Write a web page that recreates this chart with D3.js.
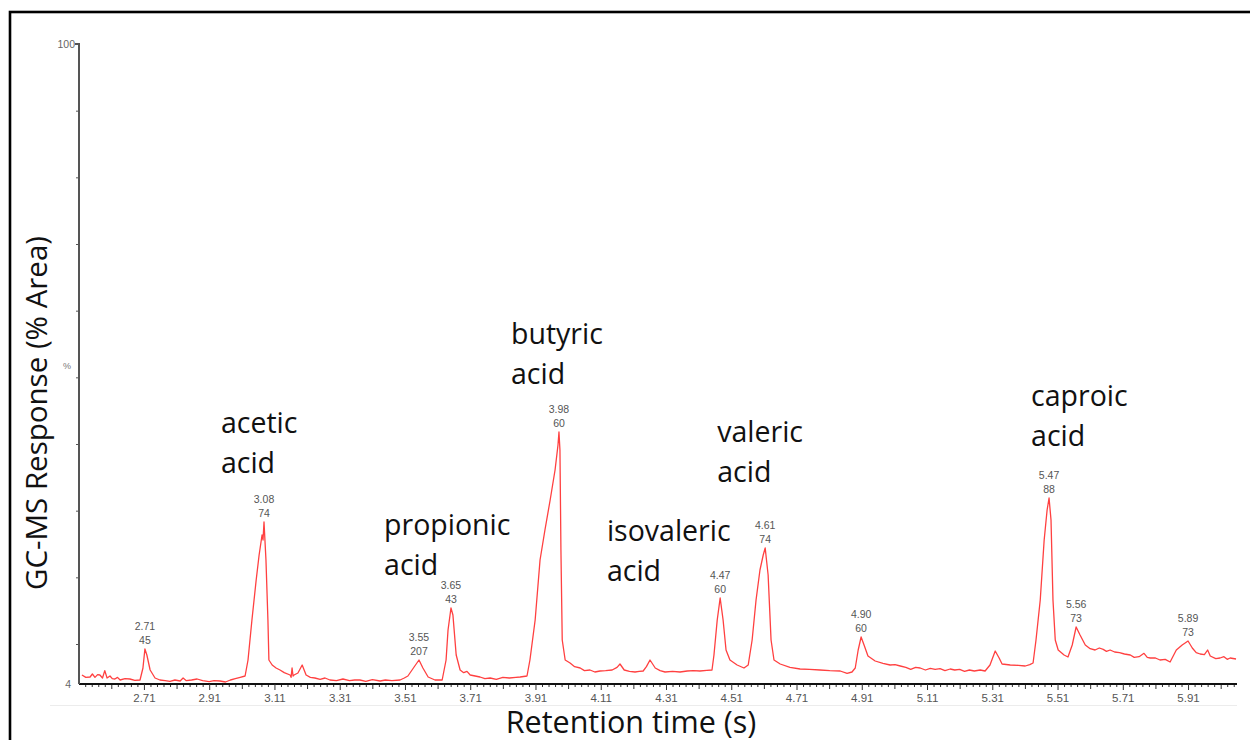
<!DOCTYPE html>
<html>
<head>
<meta charset="utf-8">
<script src="https://cdn.jsdelivr.net/npm/d3@7"></script>
<style>
  html, body { margin: 0; padding: 0; background: #fff; }
  svg { display: block; }
</style>
</head>
<body>
<svg id="chart" width="1250" height="740"></svg>
<script>
// ---------------- DATA ----------------
// Chromatogram trace: retention time (s) and response (%)
const traceTime = [
  2.520,2.532,2.545,2.552,2.560,2.568,2.575,2.583,2.590,2.597,2.606,2.613,2.621,2.629,2.637,2.652,2.667,2.682,2.698,
  2.707,2.713,2.719,2.729,2.744,2.759,2.775,2.790,2.805,2.821,2.830,2.840,2.856,2.873,2.890,2.910,2.925,2.943,2.960,2.975,2.990,
  3.005,3.020,3.029,3.041,3.054,3.063,3.072,3.075,3.078,3.084,3.090,3.093,3.103,3.115,3.127,3.140,3.158,3.161,3.164,3.167,3.170,
  3.182,3.195,3.207,3.220,3.234,3.250,3.265,3.280,3.300,3.320,3.340,3.356,3.372,3.390,3.410,3.434,3.450,3.470,3.495,3.508,
  3.519,3.538,3.553,3.565,3.581,3.602,3.624,3.636,3.642,3.651,3.657,3.667,3.679,3.690,3.700,3.710,3.725,3.740,3.755,3.771,
  3.790,3.810,3.830,3.850,3.863,3.884,3.893,3.909,3.924,3.939,3.955,3.970,3.979,3.982,3.985,3.988,3.992,4.001,4.016,4.030,
  4.047,4.060,4.077,4.092,4.108,4.125,4.145,4.160,4.169,4.182,4.198,4.215,4.228,4.240,4.250,4.261,4.277,4.292,4.307,4.330,
  4.353,4.375,4.394,4.414,4.435,4.451,4.457,4.467,4.476,4.485,4.494,4.506,4.528,4.549,4.562,4.574,4.586,4.598,4.608,4.614,
  4.623,4.632,4.641,4.660,4.690,4.721,4.750,4.782,4.812,4.844,4.865,4.880,4.890,4.899,4.908,4.917,4.929,4.951,4.975,4.997,
  5.012,5.028,5.045,5.060,5.075,5.089,5.105,5.120,5.135,5.150,5.165,5.181,5.195,5.210,5.225,5.240,5.255,5.273,5.288,5.303,5.319,5.331,5.340,5.365,5.390,5.411,5.425,5.435,5.444,
  5.457,5.469,5.478,5.484,5.490,5.496,5.503,5.512,5.530,5.542,5.555,5.567,5.579,5.595,5.610,5.625,5.638,5.650,5.660,5.671,5.685,5.700,5.715,5.733,
  5.745,5.760,5.775,5.785,5.794,5.810,5.824,5.840,5.855,5.874,5.892,5.910,5.923,5.935,5.947,5.960,5.970,5.978,5.995,6.008,6.020,6.030,6.039,6.057
];
const traceResponse = [
  5.35,5.0,5.05,5.5,5.0,5.4,5.35,4.9,6.0,4.9,5.2,4.8,4.75,5.0,4.6,4.8,4.75,4.55,4.6,
  6.4,9.25,8.35,6.1,4.9,4.6,4.5,4.4,4.6,4.45,4.9,4.5,4.6,4.75,4.5,4.35,4.5,4.45,4.3,4.6,4.8,
  5.0,5.2,7.6,13.6,19.6,23.35,26.35,25.6,28.3,22.6,13.6,7.6,6.85,6.4,6.1,5.7,5.35,5.0,6.4,5.2,5.35,
  5.65,6.85,5.35,5.0,4.9,4.7,4.9,4.6,4.5,4.75,4.5,4.6,4.6,4.4,4.65,4.45,4.6,4.5,4.6,4.9,
  5.2,6.55,7.6,6.4,5.05,4.6,4.6,7.6,12.1,15.4,14.35,8.35,6.1,5.7,5.9,5.35,5.2,5.05,4.8,4.9,
  4.7,5.0,4.9,5.0,5.05,5.2,7.6,13.6,22.6,27.1,31.6,36.1,39.85,41.8,39.1,24.1,10.6,7.6,7.15,6.6,
  6.4,6.0,6.1,5.8,5.95,6.0,6.1,6.5,7.0,6.1,5.9,5.8,5.9,5.95,6.6,7.6,6.4,6.0,5.8,5.9,
  5.8,5.95,6.0,5.95,6.05,6.1,8.35,13.6,16.9,13.6,9.1,7.6,6.85,6.4,6.85,10.6,16.6,21.1,23.35,24.4,
  20.35,10.6,7.6,7.0,6.5,6.25,6.2,6.1,6.0,5.95,5.6,5.8,6.4,9.1,11.05,9.85,8.2,7.45,7.1,6.85,
  6.9,6.7,6.5,6.2,6.5,6.4,6.1,6.35,6.2,6.3,6.0,6.25,6.1,6.2,5.9,6.1,5.95,6.1,5.95,6.85,8.95,7.9,7.0,6.85,6.8,6.7,6.9,7.15,10.6,
  16.6,25.6,30.1,31.9,28.6,16.6,10.6,9.1,8.35,8.05,9.85,12.55,11.35,9.85,9.3,9.1,9.4,9.2,8.9,9.1,8.8,8.7,8.5,8.35,
  8.0,8.1,8.6,8.0,7.9,7.9,7.6,7.7,7.3,9.1,9.85,10.45,9.4,8.7,8.5,8.4,9.1,8.2,7.8,7.9,8.1,7.7,7.9,7.75
];

// Peak annotations (apex retention time label, base m/z)
const peakRTLabels = ["2.71","3.08","3.55","3.65","3.98","4.47","4.61","4.90","5.47","5.56","5.89"];
const peakMzLabels = ["45","74","207","43","60","60","74","60","88","73","73"];
const peakApexTime = [2.713,3.078,3.553,3.651,3.982,4.476,4.614,4.908,5.484,5.567,5.910];
const peakApexResponse = [9.25,28.3,7.6,15.4,41.8,16.9,24.4,11.05,31.9,12.55,10.45];

// Compound names
const compoundNames = ["acetic","butyric","propionic","isovaleric","valeric","caproic"];
const compoundSecondLine = ["acid","acid","acid","acid","acid","acid"];

// Axis ticks
const xTickLabels = ["2.71","2.91","3.11","3.31","3.51","3.71","3.91","4.11","4.31","4.51","4.71","4.91","5.11","5.31","5.51","5.71","5.91"];
const yTickValues = [10,20,30,40,50,60,70,80,90,100];
const yTopLabel = "100";
const yBottomLabel = "4";
const yUnitLabel = "%";
const xTitle = "Retention time (s)";
const yTitle = "GC-MS Response (% Area)";

// ---------------- LAYOUT (positions of compound labels in data units) ----------------
const compoundLabelTime = [2.946, 3.835, 3.446, 4.129, 4.467, 5.429];
const compoundLabelResponse = [41.65, 55.0, 26.35, 25.45, 40.3, 45.7];

// ---------------- DRAW ----------------
const svg = d3.select("#chart");
const plot = { left: 79, right: 1237, top: 44, bottom: 684 };

const x = d3.scaleLinear().domain([2.511, 6.06]).range([plot.left, plot.right]);
const y = d3.scaleLinear().domain([4, 100]).range([plot.bottom, plot.top]);

// outer frame
svg.append("rect")
  .attr("x", 10).attr("y", 12).attr("width", 1400).attr("height", 900)
  .attr("fill", "none").attr("stroke", "#000").attr("stroke-width", 2.6);

// faint bottom line of the instrument image
svg.append("line")
  .attr("x1", 50).attr("x2", plot.right).attr("y1", 705.5).attr("y2", 705.5)
  .attr("stroke", "#ececec").attr("stroke-width", 1);

// trace
const traceData = traceTime.map((t, i) => [t, traceResponse[i]]);
svg.append("path")
  .datum(traceData)
  .attr("fill", "none")
  .attr("stroke", "#ff4040")
  .attr("stroke-width", 1.3)
  .attr("stroke-linejoin", "round")
  .attr("d", d3.line().x(d => x(d[0])).y(d => y(d[1])));

// x axis: minor ticks
const minorVals = d3.range(0, 200).map(i => +(2.51 + i * 0.02).toFixed(2)).filter(v => v >= 2.52 && v <= 6.06);
const xMinor = d3.axisBottom(x).tickValues(minorVals.filter(v => Math.round(v * 100) % 10 !== 1))
  .tickSize(3).tickFormat("");
const gMinor = svg.append("g").attr("transform", `translate(0,${plot.bottom})`).call(xMinor);
gMinor.select(".domain").remove();
gMinor.selectAll("line").attr("stroke", "#333").attr("stroke-width", 1);

const midVals = minorVals.filter(v => Math.round(v * 100) % 10 === 1 && !xTickLabels.includes(v.toFixed(2)));
const xMid = d3.axisBottom(x).tickValues(midVals).tickSize(5).tickFormat("");
const gMid = svg.append("g").attr("transform", `translate(0,${plot.bottom})`).call(xMid);
gMid.select(".domain").remove();
gMid.selectAll("line").attr("stroke", "#333").attr("stroke-width", 1);

const xMajor = d3.axisBottom(x).tickValues(xTickLabels.map(Number)).tickSize(6).tickPadding(4)
  .tickFormat((d, i) => xTickLabels[i]);
const gX = svg.append("g").attr("transform", `translate(0,${plot.bottom})`).call(xMajor);
gX.select(".domain").attr("stroke", "#111").attr("stroke-width", 2).attr("d", `M${plot.left},0H${plot.right}`);
gX.selectAll("line").attr("stroke", "#333").attr("stroke-width", 1);
gX.selectAll("text").attr("fill", "#555").attr("font-family", "Liberation Sans, Arial, sans-serif").attr("font-size", 11.5);

// y axis
const yAxis = d3.axisLeft(y).tickValues(yTickValues).tickSize(3).tickFormat("");
const gY = svg.append("g").attr("transform", `translate(${plot.left},0)`).call(yAxis);
gY.select(".domain").attr("stroke", "#555").attr("stroke-width", 2).attr("d", `M-4,${plot.top}H0V${plot.bottom}`);
gY.selectAll("line").attr("stroke", "#555").attr("stroke-width", 1);

const smallFont = "Liberation Sans, Arial, sans-serif";
svg.append("text").attr("x", plot.left - 4).attr("y", y(100) + 4).attr("text-anchor", "end")
  .attr("font-family", smallFont).attr("font-size", 10.5).attr("fill", "#666").text(yTopLabel);
svg.append("text").attr("x", plot.left - 8).attr("y", y(4) + 4).attr("text-anchor", "end")
  .attr("font-family", smallFont).attr("font-size", 10.5).attr("fill", "#666").text(yBottomLabel);
svg.append("text").attr("x", plot.left - 8).attr("y", y(50) - 8).attr("text-anchor", "end")
  .attr("font-family", smallFont).attr("font-size", 9).attr("fill", "#777").text(yUnitLabel);

// peak labels
const pk = svg.append("g").attr("font-family", smallFont).attr("font-size", 10.5).attr("fill", "#555").attr("text-anchor", "middle");
peakRTLabels.forEach((lab, i) => {
  const px = x(peakApexTime[i]), py = y(peakApexResponse[i]);
  pk.append("text").attr("x", px).attr("y", py - 19).text(lab);
  pk.append("text").attr("x", px).attr("y", py - 5).text(peakMzLabels[i]);
});

// compound labels
const bigFont = "'Open Sans', Lato, sans-serif";
const cg = svg.append("g").attr("font-family", bigFont).attr("font-size", 28.5).attr("fill", "#111");
compoundNames.forEach((name, i) => {
  const cx = x(compoundLabelTime[i]), cy = y(compoundLabelResponse[i]);
  cg.append("text").attr("x", cx).attr("y", cy).text(name);
  cg.append("text").attr("x", cx).attr("y", cy + 40).text(compoundSecondLine[i]);
});

// axis titles
svg.append("text").attr("x", 631).attr("y", 733).attr("text-anchor", "middle")
  .attr("font-family", bigFont).attr("font-size", 30.5).attr("fill", "#111").text(xTitle);
svg.append("text").attr("transform", "translate(47,413) rotate(-90)").attr("text-anchor", "middle")
  .attr("font-family", bigFont).attr("font-size", 29.5).attr("fill", "#111").text(yTitle);
</script>
</body>
</html>
